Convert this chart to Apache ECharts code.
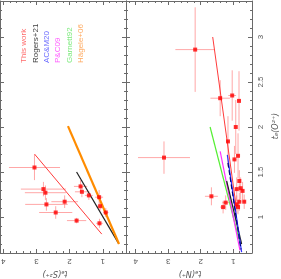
<!DOCTYPE html>
<html><head><meta charset="utf-8">
<script src="https://cdn.jsdelivr.net/npm/echarts@6/dist/echarts.min.js"></script>
<style>html,body{margin:0;padding:0;background:#fff}#c{width:281px;height:279px}</style>
</head><body><div id="c"></div>
<script>
// ---- Left panel: t_e(S2+) (x) vs t_e(O2+) (y), "This work"
const sX    = [3.06, 2.79, 2.73, 2.70, 2.42, 2.15, 1.79, 1.67, 1.63, 1.42, 1.11, 1.08, 0.91, 1.10];
const sY    = [1.55, 1.31, 1.27, 1.14, 1.05, 1.17, 0.96, 1.34, 1.28, 1.24, 1.22, 1.12, 1.05, 0.93];
const sXerr = [0.77, 0.68, 0.62, 0.64, 0.50, 0.40, 0.29, 0.20, 0.21, 0.12, 0.12, 0.10, 0.08, 0.10];
const sYerr = [0.14, 0.08, 0.08, 0.07, 0.07, 0.07, 0.03, 0.07, 0.06, 0.05, 0.08, 0.05, 0.05, 0.05];
// ---- Right panel: t_e(N+) (x) vs t_e(O2+) (y), "This work"
const nX    = [2.17, 1.40, 1.03, 0.82, 0.92, 3.13, 1.67, 1.16, 0.85, 0.96, 0.81, 0.89, 0.77, 0.71, 0.66, 0.81, 1.23, 1.31, 0.89, 0.85];
const nY    = [2.86, 2.32, 2.35, 2.29, 2.00, 1.66, 1.23, 1.84, 1.68, 1.64, 1.40, 1.31, 1.32, 1.29, 1.17, 1.17, 1.16, 1.11, 1.14, 1.11];
const nXerr = [0.61, 0.30, 0.12, 0.05, 0.05, 0.80, 0.20, 0.05, 0.05, 0.06, 0.05, 0.06, 0.06, 0.05, 0.05, 0.06, 0.10, 0.09, 0.05, 0.05];
const nYerr = [0.47, 0.20, 0.28, 0.33, 0.30, 0.18, 0.10, 0.28, 0.25, 0.15, 0.12, 0.13, 0.12, 0.10, 0.08, 0.10, 0.08, 0.07, 0.10, 0.08];
// ---- Relations (endpoints)
const sWorkLine    = [[3.06, 1.70], [1.03, 0.81]];
const sRogersLine  = [[1.79, 1.50], [0.53, 0.71]];
const sHageleLine  = [[2.05, 2.01], [0.51, 0.70]];
const nWorkLine    = [[1.63, 3.00], [0.90, 1.10]];
const nGarnettLine = [[1.71, 2.00], [0.79, 0.71]];
const nPCLine      = [[1.40, 1.73], [0.79, 0.63]];
const nACMLine     = [[1.18, 1.69], [0.74, 0.61]];
const nACMLine2    = [[1.16, 1.60], [0.76, 0.64]];
const nRogersLine  = [[1.20, 1.40], [0.74, 0.70]];
// ---- Text
const legendNames  = ['This work', 'Rogers+21', 'AC&M20', 'P&C09', 'Garnett92', 'Hägele+06'];
const legendColors = ['#ff6b6b', '#404040', '#6b6bff', '#ff5cff', '#7aea7a', '#ffaa60'];
const xNameLeft  = 'tₑ(S²⁺)';
const xNameRight = 'tₑ(N⁺)';
const yName      = 'tₑ(O²⁺)';
const xRangeLeft  = [0.3, 4.1];
const xRangeRight = [0.42, 4.3];
const yRange      = [0.6, 3.4];

const axisColor = '#6a6a6a';
const FONT = 'Liberation Sans, Arial, sans-serif';
const TITLE_FONT = 'italic 8px DejaVu Sans';

const mctx = document.createElement('canvas').getContext('2d');
function textW(t, f) { mctx.font = f; return mctx.measureText(t).width; }

function xAxisCfg(grid, range, pos, labels) {
  return {
    type: 'value', gridIndex: grid, position: pos, min: range[0], max: range[1], inverse: true,
    splitNumber: 4,
    axisLine: { show: true, onZero: false, lineStyle: { color: axisColor, width: 1 } },
    axisTick: { show: true, inside: true, length: 4, lineStyle: { color: axisColor } },
    minorTick: { show: true, splitNumber: 5, length: 2, lineStyle: { color: axisColor } },
    splitLine: { show: false },
    axisLabel: { show: labels, rotate: 180, fontSize: 8, color: '#555', margin: 4, fontFamily: FONT,
                 showMinLabel: false, showMaxLabel: false }
  };
}
function yAxisCfg(grid, pos, labels) {
  return {
    type: 'value', gridIndex: grid, position: pos, min: yRange[0], max: yRange[1],
    splitNumber: 5,
    axisLine: { show: true, onZero: false, lineStyle: { color: axisColor, width: 1 } },
    axisTick: { show: true, inside: true, length: 4, lineStyle: { color: axisColor } },
    minorTick: { show: true, splitNumber: 5, length: 2, lineStyle: { color: axisColor } },
    splitLine: { show: false },
    axisLabel: { show: labels, rotate: 90, fontSize: 8, color: '#555', margin: 5, fontFamily: FONT,
                 showMinLabel: false, showMaxLabel: false }
  };
}

function errRender(params, api) {
  const x = api.value(0), y = api.value(1), ex = api.value(2), ey = api.value(3);
  const l = api.coord([x - ex, y]), r = api.coord([x + ex, y]);
  const t = api.coord([x, y + ey]), b = api.coord([x, y - ey]);
  const style = { stroke: 'rgba(255,95,95,0.55)', lineWidth: 1 };
  return { type: 'group', children: [
    { type: 'line', shape: { x1: l[0], y1: l[1], x2: r[0], y2: r[1] }, style: style },
    { type: 'line', shape: { x1: t[0], y1: t[1], x2: b[0], y2: b[1] }, style: style }
  ]};
}
function zip4(a, b, c, d) { return a.map((v, i) => [v, b[i], c[i], d[i]]); }
function zip2(a, b) { return a.map((v, i) => [v, b[i]]); }
function lineSeries(data, xi, color, width, type) {
  return { type: 'line', xAxisIndex: xi, yAxisIndex: xi, data: data, symbol: 'none', silent: true,
           lineStyle: { color: color, width: width, type: type || 'solid' }, z: 3 };
}
// text drawn with left/top alignment; (x,y) computed so the visual centre lands at (cx,cy)
function titleFlipped(txt, cx, cy) {      // rotated 180 deg
  const w = textW(txt, TITLE_FONT);
  return { type: 'text', x: cx + w / 2, y: cy + 4.5, rotation: Math.PI,
    style: { text: txt, fill: '#555', font: TITLE_FONT, align: 'left', verticalAlign: 'top' } };
}
function titleUp(txt, cx, cy) {           // rotated 90 deg, reads bottom-to-top
  const w = textW(txt, TITLE_FONT);
  return { type: 'text', x: cx - 4.5, y: cy + w / 2, rotation: Math.PI / 2,
    style: { text: txt, fill: '#555', font: TITLE_FONT, align: 'left', verticalAlign: 'top' } };
}

const chart = echarts.init(document.getElementById('c'), null, { renderer: 'canvas' });
chart.setOption({
  animation: false,
  backgroundColor: '#fff',
  grid: [
    { left: 0, top: 1, width: 126, height: 252, containLabel: false, outerBoundsMode: 'none' },
    { left: 126, top: 1, width: 126, height: 252, containLabel: false, outerBoundsMode: 'none' }
  ],
  xAxis: [
    xAxisCfg(0, xRangeLeft, 'bottom', true),
    xAxisCfg(0, xRangeLeft, 'top', false),
    xAxisCfg(1, xRangeRight, 'bottom', true),
    xAxisCfg(1, xRangeRight, 'top', false)
  ],
  yAxis: [
    yAxisCfg(0, 'left', false),
    yAxisCfg(0, 'right', false),
    yAxisCfg(1, 'left', false),
    yAxisCfg(1, 'right', true)
  ],
  series: [
    lineSeries(sWorkLine, 0, '#ff3b3b', 1),
    lineSeries(sRogersLine, 0, '#222', 1.2),
    lineSeries(sHageleLine, 0, '#ff8c00', 2.2),
    lineSeries(nGarnettLine, 2, '#55ee33', 1.2),
    lineSeries(nPCLine, 2, '#ff33ff', 1.2),
    lineSeries(nRogersLine, 2, '#222', 1.2),
    lineSeries(nACMLine, 2, '#2e2eff', 1.2),
    lineSeries(nACMLine2, 2, '#000080', 1.2, 'dashed'),
    lineSeries(nWorkLine, 2, '#ff3b3b', 1),
    { type: 'custom', xAxisIndex: 0, yAxisIndex: 0, data: zip4(sX, sY, sXerr, sYerr),
      encode: { x: 0, y: 1 }, renderItem: errRender, silent: true, z: 2 },
    { type: 'custom', xAxisIndex: 2, yAxisIndex: 2, data: zip4(nX, nY, nXerr, nYerr),
      encode: { x: 0, y: 1 }, renderItem: errRender, silent: true, z: 2 },
    { type: 'scatter', xAxisIndex: 0, yAxisIndex: 0, data: zip2(sX, sY), symbol: 'rect', symbolSize: 4,
      itemStyle: { color: '#ff0000' }, silent: true, z: 4 },
    { type: 'scatter', xAxisIndex: 2, yAxisIndex: 2, data: zip2(nX, nY), symbol: 'rect', symbolSize: 4,
      itemStyle: { color: '#ff0000' }, silent: true, z: 4 }
  ],
  graphic: [
    ...legendNames.map((n, i) => ({
      type: 'text', x: 20 + i * 11.4, y: 63, rotation: Math.PI / 2,
      style: { text: n, fill: legendColors[i], font: '8px ' + FONT, align: 'left', verticalAlign: 'top' }
    })),
    titleFlipped(xNameLeft, 55, 273),
    titleFlipped(xNameRight, 190, 273),
    titleUp(yName, 276, 126)
  ]
});
</script></body></html>
